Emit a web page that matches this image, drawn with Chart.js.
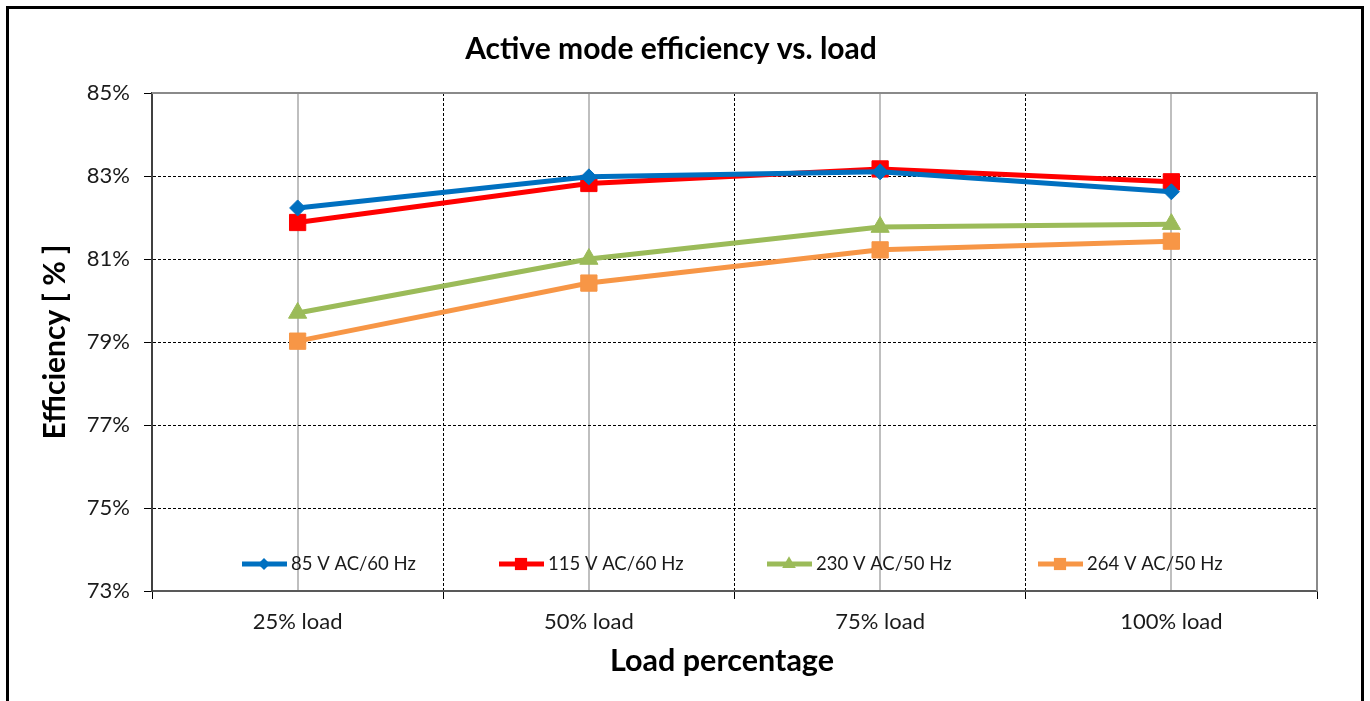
<!DOCTYPE html>
<html>
<head>
<meta charset="utf-8">
<script src="https://cdn.jsdelivr.net/npm/chart.js@4.4.1/dist/chart.umd.min.js"></script>
<style>
html,body{margin:0;padding:0;background:#fff;overflow:hidden}
#wrap{width:1370px;height:701px;position:relative}
</style>
</head>
<body>
<div id="wrap"><canvas id="c" width="1370" height="701"></canvas></div>
<script>
// ---- data ----
const categories = ['25% load', '50% load', '75% load', '100% load'];
const seriesNames = ['85 V AC/60 Hz', '115 V AC/60 Hz', '230 V AC/50 Hz', '264 V AC/50 Hz'];
const v85  = [82.23, 82.98, 83.10, 82.62];
const v115 = [81.88, 82.82, 83.17, 82.86];
const v230 = [79.70, 81.00, 81.77, 81.84];
const v264 = [79.02, 80.42, 81.22, 81.43];
const yMin = 73, yMax = 85, yStep = 2;
const chartTitle = 'Active mode efficiency vs. load';
const xTitle = 'Load percentage';
const yTitle = 'Efficiency [ % ]';

const FONT = 'Lato';
const colors = ['#0070C0', '#FF0000', '#9BBB59', '#F79646'];
const styles = ['rectRot', 'rect', 'triangle', 'rect'];
const radii = [8, 11.5, 10.5, 11.5];
const values = [v85, v115, v230, v264];

const datasets = values.map((v, i) => ({
  label: seriesNames[i],
  data: v,
  borderColor: colors[i],
  backgroundColor: colors[i],
  borderWidth: 5,
  pointStyle: styles[i],
  pointRadius: radii[i],
  pointHoverRadius: radii[i],
  pointBorderWidth: 1,
  pointBorderColor: colors[i],
  pointBackgroundColor: colors[i],
  tension: 0,
  fill: false
}));

const outerBorder = {
  id: 'outerBorder',
  afterDraw(chart) {
    const ctx = chart.ctx;
    ctx.save();
    ctx.strokeStyle = '#000';
    ctx.lineWidth = 3;
    ctx.strokeRect(7.5, 7.5, 1355, 730);
    ctx.restore();
  }
};

const frame = {
  id: 'frame',
  beforeDatasetsDraw(chart) {
    const {ctx, chartArea: a} = chart;
    ctx.save();
    ctx.strokeStyle = '#8a8a8a';
    ctx.lineWidth = 2;
    ctx.beginPath();
    ctx.moveTo(a.left, a.top);
    ctx.lineTo(a.right, a.top);
    ctx.lineTo(a.right, a.bottom);
    ctx.stroke();
    ctx.restore();
  }
};

const xAxisTitle = {
  id: 'xAxisTitle',
  afterDraw(chart) {
    const ctx = chart.ctx;
    ctx.save();
    ctx.fillStyle = '#000';
    ctx.font = 'bold 30.5px ' + FONT;
    ctx.textAlign = 'center';
    ctx.textBaseline = 'middle';
    ctx.fillText(xTitle, 722, 661);
    ctx.restore();
  }
};

function drawMarker(ctx, style, x, y, r) {
  ctx.beginPath();
  if (style === 'rectRot') {
    ctx.moveTo(x, y - r); ctx.lineTo(x + r, y); ctx.lineTo(x, y + r); ctx.lineTo(x - r, y);
  } else if (style === 'triangle') {
    ctx.moveTo(x, y - r); ctx.lineTo(x + r * 0.866, y + r * 0.5); ctx.lineTo(x - r * 0.866, y + r * 0.5);
  } else {
    const s = r * Math.SQRT1_2;
    ctx.rect(x - s, y - s, 2 * s, 2 * s);
  }
  ctx.closePath();
  ctx.fill();
}

const legendInside = {
  id: 'legendInside',
  afterDatasetsDraw(chart) {
    const ctx = chart.ctx;
    const starts = [242, 499, 767, 1038];
    const y = 564;
    ctx.save();
    chart.data.datasets.forEach((ds, i) => {
      const x0 = starts[i];
      ctx.strokeStyle = ds.borderColor;
      ctx.lineWidth = 5;
      ctx.beginPath();
      ctx.moveTo(x0, y);
      ctx.lineTo(x0 + 45, y);
      ctx.stroke();
      ctx.fillStyle = ds.borderColor;
      drawMarker(ctx, ds.pointStyle, x0 + 22, y, ds.pointRadius * 0.75);
      ctx.fillStyle = '#1a1a1a';
      ctx.font = '18.5px ' + FONT;
      ctx.textBaseline = 'middle';
      ctx.textAlign = 'left';
      ctx.fillText(ds.label, x0 + 49, y);
    });
    ctx.restore();
  }
};

new Chart(document.getElementById('c'), {
  type: 'line',
  data: { labels: categories, datasets },
  options: {
    responsive: false,
    animation: false,
    devicePixelRatio: 1,
    layout: { padding: { top: 0, left: 25, right: 53, bottom: 0 } },
    plugins: {
      legend: { display: false },
      tooltip: { enabled: false },
      title: {
        display: true,
        text: chartTitle,
        color: '#000',
        font: { family: FONT, size: 30, weight: 'bold', lineHeight: 1.2 },
        padding: { top: 31, bottom: 26 }
      }
    },
    scales: {
      x2: {
        type: 'category',
        labels: categories,
        position: 'bottom',
        weight: 0,
        offset: true,
        grid: {
          offset: true,
          color: (c) => (c.index === 0 || c.index === categories.length) ? 'transparent' : '#000',
          lineWidth: 1,
          drawTicks: true,
          tickLength: 8,
          tickColor: '#000',
          tickBorderDash: []
        },
        border: { display: true, color: '#595959', width: 2, dash: [3, 2] },
        ticks: { display: false },
        afterFit: (s) => { s.height = 8; }
      },
      x: {
        type: 'category',
        position: 'bottom',
        weight: 1,
        offset: true,
        grid: { offset: false, color: '#BFBFBF', lineWidth: 2, drawTicks: false },
        border: { display: false },
        ticks: { color: '#1a1a1a', font: { family: FONT, size: 22 }, padding: 10 },
        title: { display: false },
        afterFit: (s) => { s.height = 102; }
      },
      y: {
        min: yMin,
        max: yMax,
        ticks: {
          stepSize: yStep,
          color: '#1a1a1a',
          font: { family: FONT, size: 22 },
          padding: 14,
          callback: (v) => v + '%'
        },
        grid: {
          color: (c) => (c.tick && (c.tick.value === yMin || c.tick.value === yMax)) ? 'transparent' : '#000',
          lineWidth: 1,
          tickLength: 8,
          tickColor: '#000',
          tickBorderDash: []
        },
        border: { display: true, color: '#404040', width: 2, dash: [3, 2] },
        title: {
          display: true,
          text: yTitle,
          color: '#000',
          font: { family: FONT, size: 30, weight: 'bold', lineHeight: 1.2 },
          padding: { top: 12, bottom: 0 }
        },
        afterFit: (s) => { s.width = 127; }
      }
    }
  },
  plugins: [frame, legendInside, xAxisTitle, outerBorder]
});
</script>
</body>
</html>
